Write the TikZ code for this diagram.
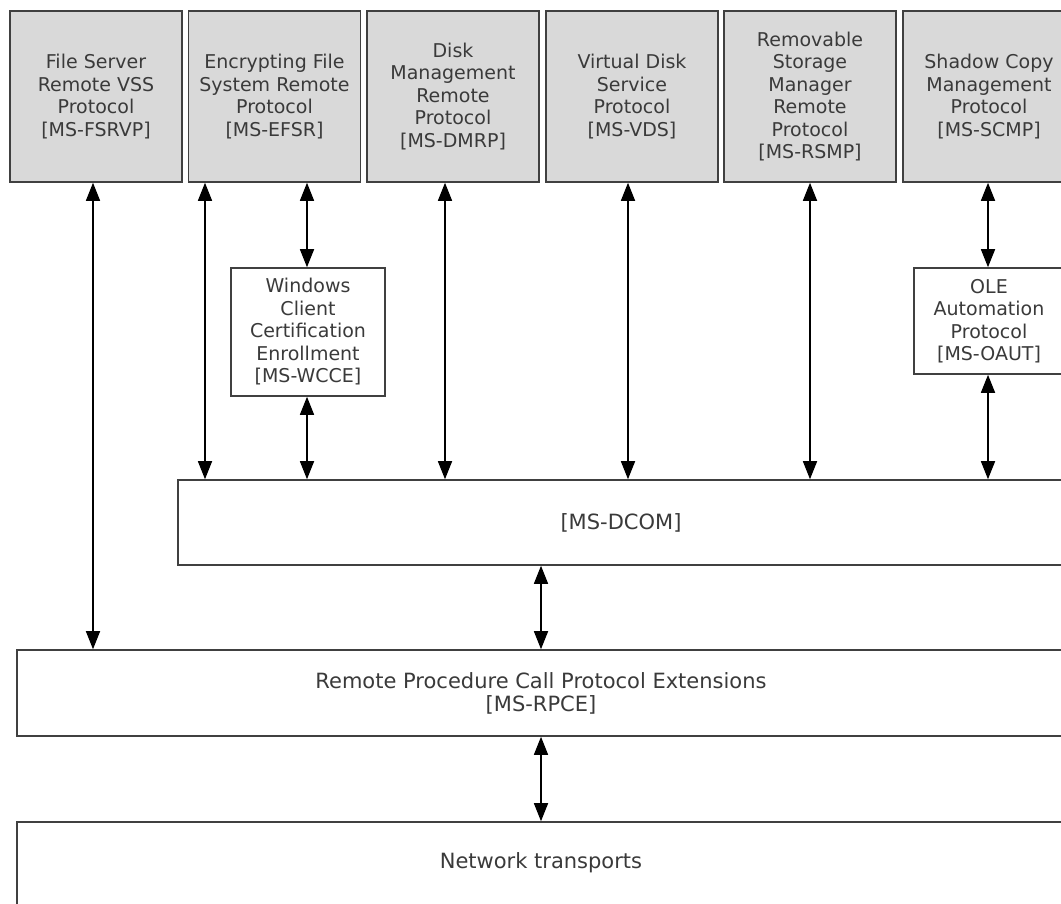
\documentclass[tikz,border=0pt]{standalone}
\usepackage{fontspec}
\setmainfont{DejaVu Sans}
\usetikzlibrary{arrows.meta}
\definecolor{edge}{HTML}{404040}
\definecolor{txt}{HTML}{3A3A3A}
\definecolor{boxfill}{HTML}{D9D9D9}
\tikzset{
  proto/.style={draw=edge, line width=1.6pt, fill=boxfill, text=txt, align=center,
    inner sep=0pt, minimum width=172pt, minimum height=171pt,
    font=\fontsize{19}{22.5}\selectfont},
  plain/.style={draw=edge, line width=1.6pt, fill=white, text=txt, align=center,
    inner sep=0pt, font=\fontsize{19}{22.5}\selectfont},
  big/.style={font=\fontsize{21}{23}\selectfont},
  arr/.style={draw=black, line width=1.6pt, {Triangle[length=18pt,width=14pt]}-{Triangle[length=18pt,width=14pt]}}
}
\begin{document}
\begin{tikzpicture}[x=1pt,y=-1pt]
\useasboundingbox (0,0) rectangle (1061,903);
\clip (0,0) rectangle (1061,903);
% top protocol boxes
\node[proto] (fsrvp) at (96,96.5) {File Server\\Remote VSS\\Protocol\\{[MS-FSRVP]}};
\node[proto] (efsr) at (274.5,96.5) {Encrypting File\\System Remote\\Protocol\\{[MS-EFSR]}};
\node[proto] (dmrp) at (453,96.5) {Disk\\Management\\Remote\\Protocol\\{[MS-DMRP]}};
\node[proto] (vds) at (632,96.5) {Virtual Disk\\Service\\Protocol\\{[MS-VDS]}};
\node[proto] (rsmp) at (810,96.5) {Removable\\Storage\\Manager\\Remote\\Protocol\\{[MS-RSMP]}};
\node[proto] (scmp) at (989,96.5) {Shadow Copy\\Management\\Protocol\\{[MS-SCMP]}};
% middle boxes
\node[plain, minimum width=154pt, minimum height=128pt] (wcce) at (308,332) {Windows\\Client\\Certification\\Enrollment\\{[MS-WCCE]}};
\node[plain, minimum width=150pt, minimum height=106pt] (oaut) at (989,321) {OLE\\Automation\\Protocol\\{[MS-OAUT]}};
\node[plain, big, minimum width=886pt, minimum height=85pt] (dcom) at (621,522.5) {[MS-DCOM]};
\node[plain, big, minimum width=1048pt, minimum height=86pt] (rpce) at (541,693) {Remote Procedure Call Protocol Extensions\\{[MS-RPCE]}};
\node[plain, minimum width=1048pt, minimum height=120pt] (net) at (541,882) {};
\node[text=txt, big] (nettxt) at (541,863) {Network transports};
% column coordinates
\coordinate (c1) at (93,0);
\coordinate (c2) at (205,0);
\coordinate (c3) at (307,0);
\coordinate (c4) at (445,0);
\coordinate (c5) at (628,0);
\coordinate (c6) at (810,0);
\coordinate (c7) at (988,0);
\coordinate (c8) at (541,0);
% connectors
\draw[arr] (fsrvp.south -| c1) -- (rpce.north -| c1);
\draw[arr] (efsr.south -| c2) -- (dcom.north -| c2);
\draw[arr] (efsr.south -| c3) -- (wcce.north -| c3);
\draw[arr] (wcce.south -| c3) -- (dcom.north -| c3);
\draw[arr] (dmrp.south -| c4) -- (dcom.north -| c4);
\draw[arr] (vds.south -| c5) -- (dcom.north -| c5);
\draw[arr] (rsmp.south -| c6) -- (dcom.north -| c6);
\draw[arr] (scmp.south -| c7) -- (oaut.north -| c7);
\draw[arr] (oaut.south -| c7) -- (dcom.north -| c7);
\draw[arr] (dcom.south -| c8) -- (rpce.north -| c8);
\draw[arr] (rpce.south -| c8) -- (net.north -| c8);
\end{tikzpicture}
\end{document}
